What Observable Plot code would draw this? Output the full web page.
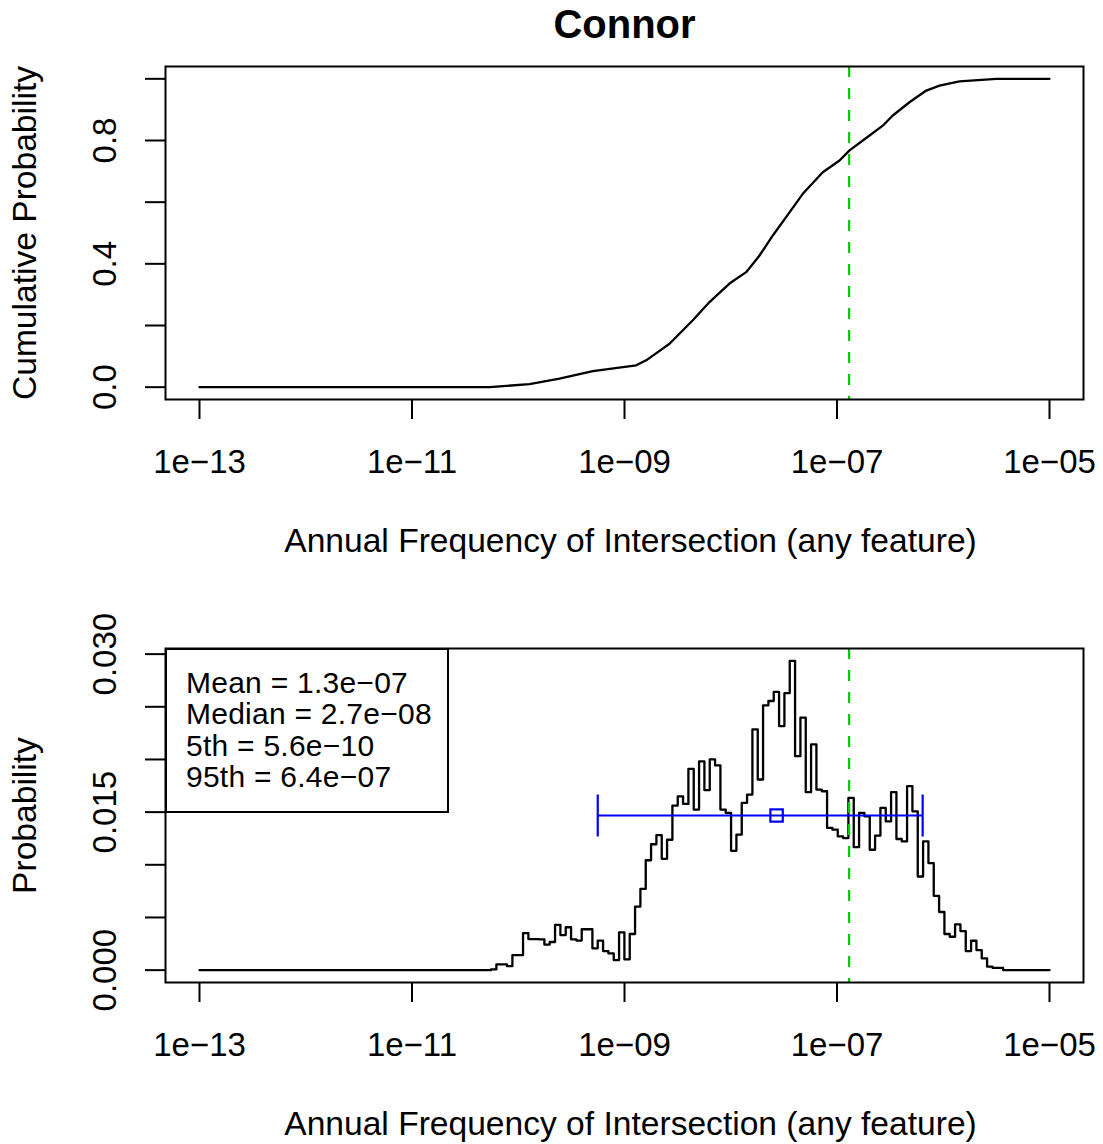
<!DOCTYPE html>
<html><head><meta charset="utf-8">
<script src="https://cdn.jsdelivr.net/npm/d3@7"></script>
<script src="https://cdn.jsdelivr.net/npm/@observablehq/plot@0.6"></script>
<style>
body{margin:0;background:#fff;}
#root{position:relative;width:1103px;height:1144px;font-family:"Liberation Sans",Arial,Helvetica,sans-serif;}
#root svg{position:absolute;left:0;}
#legend{position:absolute;left:165px;top:648px;width:284px;height:165px;box-sizing:border-box;border:2px solid #000;background:#fff;padding:17px 0 0 19px;font-size:30px;color:#000;white-space:nowrap;}
#legend div{height:31.3px;line-height:31.3px;letter-spacing:0.25px;}
</style></head><body><div id="root"><div id="legend"></div></div>
<script>
// ---------------- data ----------------
const chartTitle = "Connor";
const xAxisTitle = "Annual Frequency of Intersection (any feature)";
const yTitleTop = "Cumulative Probability";
const yTitleBottom = "Probability";

const xTicks = [1e-13, 1e-11, 1e-9, 1e-7, 1e-5];
const xTickLabels = ["1e\u221213", "1e\u221211", "1e\u221209", "1e\u221207", "1e\u221205"];
const yTicksTop = [0, 0.2, 0.4, 0.6, 0.8, 1.0];
const yLabelValsTop = [0, 0.4, 0.8];
const yLabelsTop = ["0.0", "0.4", "0.8"];
const yTicksBottom = [0, 0.005, 0.01, 0.015, 0.02, 0.025, 0.03];
const yLabelValsBottom = [0, 0.015, 0.03];
const yLabelsBottom = ["0.000", "0.015", "0.030"];

// cumulative distribution (log10 of frequency, cumulative probability)
const cdfLog10X = [-13, -10.27, -9.894, -9.612, -9.298, -8.89, -8.796, -8.576, -8.357, -8.2, -8.012, -7.855, -7.729, -7.604, -7.447, -7.322, -7.134, -6.976, -6.882, -6.757, -6.569, -6.475, -6.318, -6.16, -6.035, -5.847, -5.5, -5];
const cdfProb    = [0, 0, 0.01, 0.028, 0.052, 0.071, 0.087, 0.141, 0.217, 0.276, 0.336, 0.373, 0.427, 0.492, 0.567, 0.627, 0.697, 0.735, 0.768, 0.800, 0.848, 0.881, 0.924, 0.962, 0.978, 0.992, 1.0, 1.0];

// histogram: bins of equal width in log10 space
const histRangeLog10 = [-13, -5];
const histBinStartLog10 = -10.256;
const histBinWidthLog10 = 0.0502;
const histProb = [
 0.00007, 0.00054, 0.00054, 0.00038, 0.00143, 0.00143, 0.00352, 0.00295, 0.00295, 0.00292,
 0.00243, 0.00267, 0.00429, 0.00333, 0.00407, 0.00292, 0.00281, 0.00388, 0.00388, 0.00207,
 0.00281, 0.00181, 0.00159, 0.00095, 0.00359, 0.00102, 0.00343, 0.00603, 0.00771, 0.01043,
 0.01195, 0.01281, 0.01057, 0.01238, 0.01562, 0.01650, 0.01578, 0.01911, 0.01524, 0.01981,
 0.01708, 0.02000, 0.01943, 0.01524, 0.01492, 0.01133, 0.01286, 0.01588, 0.01667, 0.02286,
 0.01810, 0.02514, 0.02555, 0.02641, 0.02317, 0.02629, 0.02936, 0.02031, 0.02397, 0.01689,
 0.02143, 0.01714, 0.01698, 0.01350, 0.01333, 0.01270, 0.01254, 0.01635, 0.01167, 0.01492,
 0.01460, 0.01143, 0.01276, 0.01540, 0.01412, 0.01689, 0.01245, 0.01222, 0.01746, 0.01508,
 0.00889, 0.01222, 0.01016, 0.00705, 0.00552, 0.00343, 0.00317, 0.00435, 0.00371, 0.00181,
 0.00279, 0.00190, 0.00111, 0.00033, 0.00022, 0.00022];

// summary statistics
const statMean = 1.3e-7;
const statMedian = 2.7e-8;
const stat5th = 5.6e-10;
const stat95th = 6.4e-7;

// ---------------- build ----------------
const W = 1103, H = 572;
const font = '"Liberation Sans", Arial, Helvetica, sans-serif';
const green = "#00CD00", blue = "#0000FF";
const xDomain = [Math.pow(10, histRangeLog10[0] - 0.04 * 8), Math.pow(10, histRangeLog10[1] + 0.04 * 8)];

const fmtE = v => {
  const [m, e] = v.toExponential(1).split("e");
  const n = +e;
  return m + "e" + (n < 0 ? "\u2212" : "+") + String(Math.abs(n)).padStart(2, "0");
};

const cdfData = cdfLog10X.map((lx, i) => ({x: Math.pow(10, lx), p: cdfProb[i]}));
const histData = [{x: Math.pow(10, histRangeLog10[0]), p: 0}];
histProb.forEach((p, i) => histData.push({x: Math.pow(10, histBinStartLog10 + i * histBinWidthLog10), p}));
histData.push({x: Math.pow(10, histBinStartLog10 + histProb.length * histBinWidthLog10), p: 0});
histData.push({x: Math.pow(10, histRangeLog10[1]), p: 0});

const capSymbol = {draw(ctx) { ctx.moveTo(0, -21); ctx.lineTo(0, 21); }};

function axesMarks(yTicks, yLabelVals, yLabels, yTitle, title) {
  const m = [
    Plot.frame({strokeWidth: 2}),
    Plot.axisX(xTicks, {tickSize: 20, tickFormat: () => "", strokeWidth: 2, label: null}),
    Plot.axisY(yTicks, {tickSize: 20, tickFormat: () => "", strokeWidth: 2, label: null}),
    Plot.text(xTicks, {x: d => d, text: (d, i) => xTickLabels[i], frameAnchor: "bottom", dy: 63, fontSize: 33, lineAnchor: "middle"}),
    Plot.text(yLabelVals, {y: d => d, text: (d, i) => yLabels[i], frameAnchor: "left", dx: -60, rotate: -90, textAnchor: "middle", lineAnchor: "middle", fontSize: 33}),
    Plot.text([xAxisTitle], {text: d => d, frameAnchor: "bottom", dx: 6, dy: 142, fontSize: 33.6, lineAnchor: "middle"}),
    Plot.text([yTitle], {text: d => d, frameAnchor: "left", dx: -140, rotate: -90, textAnchor: "middle", lineAnchor: "middle", fontSize: 33.6})
  ];
  if (title) m.push(Plot.text([title], {text: d => d, frameAnchor: "top", dy: -41, fontSize: 40, fontWeight: "bold", lineAnchor: "middle"}));
  return m;
}

const topPlot = Plot.plot({
  width: W, height: H,
  marginLeft: 165, marginRight: 20, marginTop: 66, marginBottom: 173,
  style: {fontFamily: font, fontSize: "33px", background: "transparent", overflow: "visible", color: "#000"},
  x: {type: "log", domain: xDomain, axis: null},
  y: {domain: [-0.04, 1.04], axis: null},
  marks: [
    Plot.line(cdfData, {x: "x", y: "p", stroke: "#000", strokeWidth: 2.3}),
    Plot.ruleX([statMean], {stroke: green, strokeWidth: 2.2, strokeDasharray: "11,11"}),
    ...axesMarks(yTicksTop, yLabelValsTop, yLabelsTop, yTitleTop, chartTitle)
  ]
});
topPlot.style.top = "0px";

const yMax = d3.max(histProb);
const barY = yMax / 2;
const bottomPlot = Plot.plot({
  width: W, height: H,
  marginLeft: 165, marginRight: 20, marginTop: 76, marginBottom: 162,
  style: {fontFamily: font, fontSize: "33px", background: "transparent", overflow: "visible", color: "#000"},
  x: {type: "log", domain: xDomain, axis: null},
  y: {domain: [-0.04 * yMax, 1.04 * yMax], axis: null},
  marks: [
    Plot.line(histData, {x: "x", y: "p", curve: "step-after", stroke: "#000", strokeWidth: 2.3}),
    Plot.ruleX([statMean], {stroke: green, strokeWidth: 2.2, strokeDasharray: "11,11"}),
    Plot.ruleY([{x1: stat5th, x2: stat95th, y: barY}], {x1: "x1", x2: "x2", y: "y", stroke: blue, strokeWidth: 2.2}),
    Plot.dot([stat5th, stat95th], {x: d => d, y: () => barY, symbol: capSymbol, stroke: blue, strokeWidth: 2.2}),
    Plot.dot([statMedian], {x: d => d, y: () => barY, symbol: "square", r: 7, stroke: blue, strokeWidth: 2.2, fill: "none"}),
    ...axesMarks(yTicksBottom, yLabelValsBottom, yLabelsBottom, yTitleBottom, null)
  ]
});
bottomPlot.style.top = "572px";

const root = document.getElementById("root");
root.insertBefore(topPlot, root.firstChild);
root.insertBefore(bottomPlot, document.getElementById("legend"));

document.getElementById("legend").innerHTML = [
  "Mean = " + fmtE(statMean),
  "Median = " + fmtE(statMedian),
  "5th = " + fmtE(stat5th),
  "95th = " + fmtE(stat95th)
].map(s => `<div>${s}</div>`).join("");
</script>
</body></html>
